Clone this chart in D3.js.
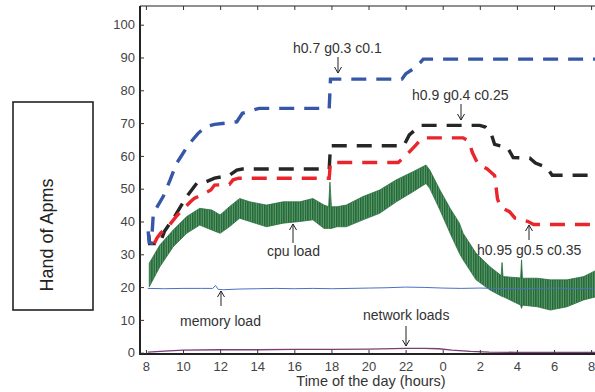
<!DOCTYPE html>
<html><head><meta charset="utf-8">
<script src="https://cdn.jsdelivr.net/npm/d3@7"></script>
<style>
html,body{margin:0;padding:0;background:#fff;}
svg{display:block;font-family:"Liberation Sans",Arial,Helvetica,sans-serif;}
</style></head>
<body><svg id="c" width="595" height="392"></svg>
<script>
// ---- data (hours counted continuously from 8 of day 1 to 8 of day 2 = 32) ----
const xTickHours = [8,10,12,14,16,18,20,22,24,26,28,30,32];
const yTicks = [0,10,20,30,40,50,60,70,80,90,100];

const blueHours = [8.12,8.18,8.3,8.4,8.93,9.3,9.65,10.28,10.8,11.2,11.7,12.9,13.2,13.8,14.1,17.88,17.95,21.8,22.0,22.4,22.8,22.95,32.3];
const blueVals  = [37,33.6,33.4,42.5,47.6,52.6,57.7,63.3,66.8,68.8,69.6,70.4,73,74,74.5,74.5,83.4,83.4,85,86.5,88.5,89.5,89.5];

const blackHours = [8.15,8.2,8.75,9.0,9.6,10.2,10.75,11.2,11.7,12.5,12.9,13.2,17.88,17.95,21.9,22.2,22.8,26.0,26.3,26.6,26.8,27.5,27.8,28.7,29.0,29.6,29.9,32.3];
const blackVals  = [36,33.3,33.3,37,42,47.6,51.7,52,53.2,54.1,55.7,56,56,63.1,63.1,66.4,69.3,69.3,68.8,67,63.5,62.5,59.5,59.3,57.8,56.5,54.1,54.1];

const redHours = [8.45,8.6,8.8,9.2,9.7,10.4,10.6,11.5,11.7,12.5,12.7,13.0,17.88,17.95,21.6,22.0,22.5,22.9,25.1,25.4,25.6,25.9,26.4,26.8,26.95,27.1,27.6,27.9,28.6,28.9,32.3];
const redVals  = [33.3,35,36.5,38.5,42,46,47,49.6,51.1,51.3,52.7,53.2,53.2,58,58,60,63,65.5,65.5,64.5,61,57.5,56,54,47,44.4,43,41,40,39.1,39.1];

// cpu load: upper and lower envelope of the oscillating trace
const cpuHours = [8.18,8.75,9.47,10.2,10.9,11.55,12.0,12.5,13.05,13.6,14.5,15.4,16.3,17.0,17.6,17.85,17.92,18.0,18.3,18.8,19.7,20.6,21.5,22.4,23.1,23.3,23.85,24.4,24.9,25.1,25.8,26.55,27.15,27.2,27.25,28.2,28.25,28.3,29.1,29.8,30.7,31.6,32.3];
const cpuHigh  = [27.3,32.8,37.4,41.5,44,43.5,42,44.5,47,46,45,46,46,47,45,44.5,52,44.5,44.5,45,47.6,49.6,52.7,55.2,57.2,55.7,49.6,44,39.5,36.4,30.3,26.2,23.5,27.5,23.2,22.8,28.3,22.7,22.7,22.2,22.2,23.2,25.2];
const cpuLow   = [20.1,26.2,32.3,36.4,38.9,37.4,36.4,38.4,41,40,38.4,39.5,40,40.5,37.9,37.9,37.9,37.9,38.4,38.4,40.5,42.5,46,49.1,51.6,50.1,43.5,36.4,30.3,28.3,22.2,19.1,17.3,17.1,17.1,14.5,13.5,14.5,14,13,14,16.1,17.1];

const memHours = [8.1,9,10,11,11.6,11.75,11.9,12.2,13,14,15,16,17,18,19,20,21,22,23,24,25,26,27,28,29,30,31,32.3];
const memVals  = [19.6,19.5,19.6,19.6,19.6,20.5,19.3,19.2,19.4,19.5,19.6,19.5,19.6,19.5,19.6,19.7,19.8,20.0,19.9,19.7,19.6,19.7,19.6,19.5,19.6,19.7,19.6,19.6];

const netHours = [8.1,9,10,12,14,16,18,20,22,23,23.8,24.5,25.5,26.5,28,30,32.3];
const netVals  = [0.2,0.5,0.8,0.9,0.9,1.0,1.0,1.1,1.3,1.3,1.2,0.8,0.4,0.2,0.1,0.1,0.1];

const annotations = [
  {text:"h0.7 g0.3 c0.1", tx:293, ty:53, ax:338, y1:57, y2:73},
  {text:"h0.9 g0.4 c0.25", tx:412, ty:100, ax:461, y1:104, y2:120},
  {text:"cpu load", tx:267, ty:256, ax:293, y1:243, y2:224},
  {text:"memory load", tx:180, ty:326, ax:221, y1:306, y2:291},
  {text:"network loads", tx:363, ty:320, ax:406, y1:326, y2:346},
  {text:"h0.95 g0.5 c0.35", tx:477, ty:255, ax:529, y1:240, y2:225}
];

// ---- drawing ----
const svg = d3.select("#c");
const L = 140, R = 595, T = 6, B = 354;
const x = d3.scaleLinear().domain([7.68, 32.21]).range([L, R]);
const y = d3.scaleLinear().domain([-0.4, 105.7]).range([B, T]);

const defs = svg.append("defs");
defs.append("clipPath").attr("id","clip").append("rect")
  .attr("x",L+1).attr("y",T).attr("width",R-L).attr("height",B-T);
const pat = defs.append("pattern").attr("id","cpuPat").attr("patternUnits","userSpaceOnUse")
  .attr("width",2.4).attr("height",10);
pat.append("rect").attr("width",2.4).attr("height",10).attr("fill","#1f6633");
pat.append("rect").attr("x",1.4).attr("width",0.9).attr("height",10).attr("fill","#6aa578");

// y label box
svg.append("rect").attr("x",13).attr("y",102).attr("width",80).attr("height",208)
  .attr("fill","#fff").attr("stroke","#222").attr("stroke-width",1.6);
svg.append("text").attr("transform","translate(53,235) rotate(-90)")
  .attr("text-anchor","middle").attr("font-size",18).attr("fill","#222")
  .text("Hand of  Apms");

const g = svg.append("g").attr("clip-path","url(#clip)");

// cpu band
const area = d3.area().x(d=>x(d[0])).y0(d=>y(d[1])).y1(d=>y(d[2]));
const cpuData = cpuHours.map((h,i)=>[h,cpuLow[i],cpuHigh[i]]);
g.append("path").attr("d",area(cpuData)).attr("fill","url(#cpuPat)")
  .attr("stroke","#2a7040").attr("stroke-width",0.8);

const line = d3.line().x(d=>x(d[0])).y(d=>y(d[1]));
const zip = (hs,vs)=>hs.map((h,i)=>[h,vs[i]]);

g.append("path").attr("d",line(zip(memHours,memVals))).attr("fill","none")
  .attr("stroke","#4d6fc4").attr("stroke-width",1);
g.append("path").attr("d",line(zip(netHours,netVals))).attr("fill","none")
  .attr("stroke","#7a3d78").attr("stroke-width",1.3);

const dashed = [
  [blackHours,blackVals,"#262626"],
  [redHours,redVals,"#e8262c"],
  [blueHours,blueVals,"#3656a8"]
];
dashed.forEach(([h,v,c])=>{
  g.append("path").attr("d",line(zip(h,v))).attr("fill","none")
    .attr("stroke",c).attr("stroke-width",3.4).attr("stroke-dasharray","15,10");
});

// axes frame
const axG = svg.append("g");
axG.append("line").attr("x1",L).attr("x2",R).attr("y1",T).attr("y2",T).attr("stroke","#222").attr("stroke-width",1.2);
axG.append("line").attr("x1",L).attr("x2",R).attr("y1",B).attr("y2",B).attr("stroke","#222").attr("stroke-width",2);
axG.append("line").attr("x1",L).attr("x2",L).attr("y1",T).attr("y2",B+1).attr("stroke","#222").attr("stroke-width",2);

const fmtH = d => String(d % 24);
const xb = svg.append("g").attr("transform",`translate(0,${B})`)
  .call(d3.axisBottom(x).tickValues(xTickHours).tickFormat(fmtH).tickSize(-4).tickPadding(8));
const xt = svg.append("g").attr("transform",`translate(0,${T})`)
  .call(d3.axisTop(x).tickValues(xTickHours).tickFormat("").tickSize(-4));
const yl = svg.append("g").attr("transform",`translate(${L},0)`)
  .call(d3.axisLeft(y).tickValues(yTicks).tickSize(-4).tickPadding(5));
[xb,xt,yl].forEach(a=>{
  a.select(".domain").remove();
  a.selectAll(".tick line").attr("stroke","#333").attr("stroke-width",1);
  a.selectAll(".tick text").attr("font-size",13).attr("fill","#444")
    .attr("font-family","Liberation Sans, Arial, sans-serif");
});

svg.append("text").attr("x",371).attr("y",386).attr("text-anchor","middle")
  .attr("font-size",14.5).attr("fill","#333").text("Time of the day (hours)");

// annotations
annotations.forEach(a=>{
  svg.append("text").attr("x",a.tx).attr("y",a.ty).attr("font-size",14)
    .attr("fill","#333").text(a.text);
  svg.append("line").attr("x1",a.ax).attr("x2",a.ax).attr("y1",a.y1).attr("y2",a.y2)
    .attr("stroke","#222").attr("stroke-width",1);
  const dir = a.y2 > a.y1 ? 1 : -1;
  svg.append("path").attr("d",`M${a.ax-3.5},${a.y2-dir*6} L${a.ax},${a.y2} L${a.ax+3.5},${a.y2-dir*6}`)
    .attr("fill","none").attr("stroke","#222").attr("stroke-width",1);
});
</script></body></html>
